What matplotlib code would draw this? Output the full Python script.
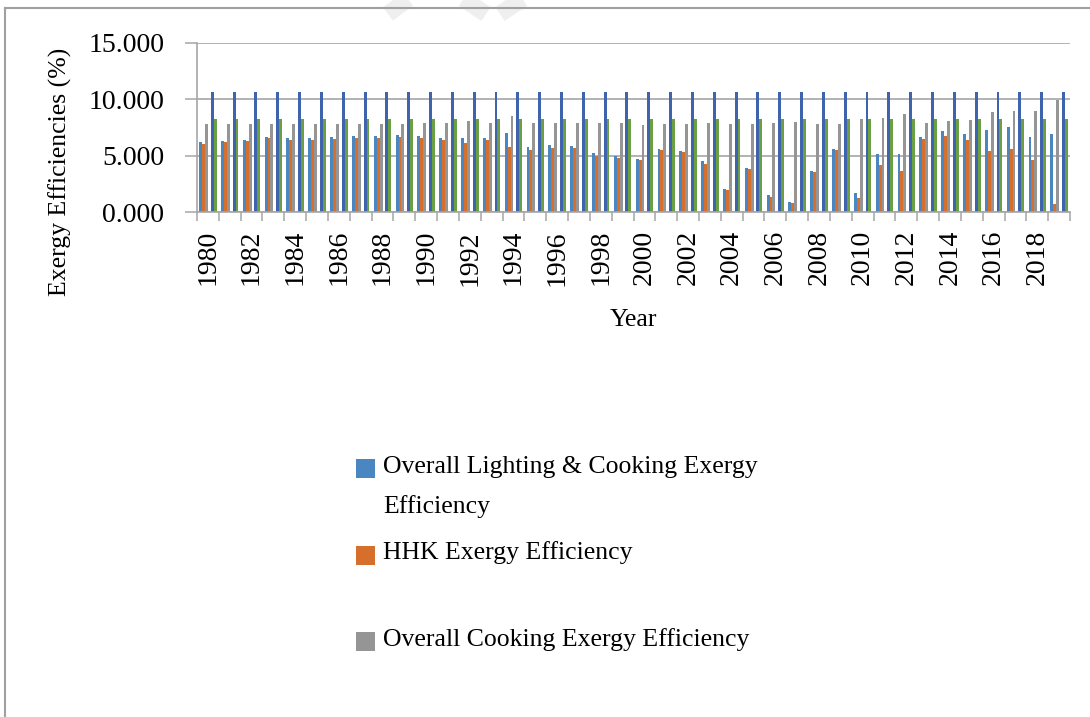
import matplotlib.pyplot as plt
import numpy as np
from matplotlib.patches import Rectangle
from matplotlib.lines import Line2D

plt.rcParams['font.family'] = ['Liberation Serif', 'DejaVu Serif']

years = list(range(1980, 2020))

lighting_cooking = [6.19, 6.34, 6.40, 6.63, 6.57, 6.55, 6.63, 6.72, 6.72, 6.81,
                    6.72, 6.60, 6.55, 6.60, 6.99, 5.75, 5.92, 5.89, 5.21, 4.98,
                    4.68, 5.57, 5.39, 4.56, 2.02, 3.94, 1.51, 0.86, 3.61, 5.57,
                    1.72, 5.12, 5.12, 6.63, 7.23, 6.96, 7.32, 7.58, 6.66, 6.90]

hhk = [6.01, 6.22, 6.28, 6.55, 6.43, 6.40, 6.46, 6.55, 6.57, 6.63,
       6.57, 6.43, 6.13, 6.37, 5.78, 5.48, 5.69, 5.66, 5.01, 4.80,
       4.65, 5.51, 5.33, 4.30, 1.93, 3.85, 1.36, 0.77, 3.56, 5.51,
       1.28, 4.21, 3.61, 6.46, 6.78, 6.37, 5.45, 5.57, 4.59, 0.71]

cooking = [7.85, 7.85, 7.85, 7.85, 7.85, 7.85, 7.85, 7.85, 7.85, 7.85,
           7.88, 7.88, 8.05, 7.91, 8.53, 7.91, 7.91, 7.91, 7.91, 7.88,
           7.76, 7.79, 7.79, 7.91, 7.79, 7.79, 7.94, 7.97, 7.79, 7.79,
           8.26, 8.32, 8.68, 7.88, 8.08, 8.17, 8.85, 9.00, 8.94, 9.98]

lighting = [10.66, 10.66, 10.66, 10.66, 10.66, 10.66, 10.66, 10.66, 10.66, 10.66,
            10.66, 10.66, 10.66, 10.66, 10.66, 10.66, 10.66, 10.66, 10.66, 10.66,
            10.66, 10.66, 10.66, 10.66, 10.66, 10.66, 10.66, 10.66, 10.66, 10.66,
            10.66, 10.66, 10.66, 10.66, 10.66, 10.66, 10.66, 10.66, 10.66, 10.66]

other = [8.26, 8.26, 8.26, 8.26, 8.26, 8.26, 8.26, 8.26, 8.26, 8.26,
         8.26, 8.26, 8.26, 8.26, 8.26, 8.26, 8.26, 8.26, 8.26, 8.26,
         8.26, 8.26, 8.26, 8.26, 8.26, 8.26, 8.26, 8.26, 8.26, 8.26,
         8.26, 8.26, 8.26, 8.26, 8.26, 8.26, 8.26, 8.26, 8.26, 8.26]

series_names = ['Overall Lighting & Cooking Exergy\nEfficiency',
                'HHK Exergy Efficiency',
                'Overall Cooking Exergy Efficiency']

# slot 3 is an empty series in the original chart
series = [(lighting_cooking, 0, '#4A86C0'),
          (hhk, 1, '#D66F2C'),
          (cooking, 2, '#959595'),
          (lighting, 4, '#3F63AD'),
          (other, 5, '#6AA043')]

W, H = 1090, 717
fig = plt.figure(figsize=(W / 100, H / 100), dpi=100)
ax = fig.add_axes([197 / W, 1 - 212 / H, (1070 - 197) / W, (212 - 43) / H])

x = np.arange(len(years))
bw = 1 / 7.5
for vals, slot, col in series:
    ax.bar(x + (slot - 2.5) * bw, vals, width=bw, color=col, linewidth=0)

grid_c = '#A6A6A6'
ax.set_ylim(0, 15)
ax.set_yticks([0, 5, 10, 15])
ax.set_yticklabels(['%.3f' % v for v in [0, 5, 10, 15]], fontsize=20)
ax.yaxis.grid(True, color=grid_c, lw=1.2)
ax.set_axisbelow(True)

ax.set_xlim(-0.5, len(years) - 0.5)
ax.set_xticks(x[::2])
ax.set_xticklabels([str(y) for y in years[::2]], rotation=90, fontsize=20)
ax.set_xticks(np.arange(-0.5, len(years)), minor=True)
ax.tick_params(axis='x', which='major', length=0, pad=13)
ax.tick_params(axis='x', which='minor', length=6.5, color=grid_c, width=1.1)
ax.tick_params(axis='y', length=8.6, color=grid_c, width=1.1, pad=15)

for s in ['top', 'right']:
    ax.spines[s].set_visible(False)
for s in ['left', 'bottom']:
    ax.spines[s].set_color(grid_c)
    ax.spines[s].set_linewidth(1.2)

fig.text(633 / W, 1 - 320 / H, 'Year', ha='center', va='center', fontsize=18.5)
fig.text(60 / W, 1 - 172 / H, 'Exergy Efficiencies (%)', rotation=90,
         ha='center', va='center', fontsize=18.5)

# legend (cut off after three entries in the original)
leg_cols = ['#4A86C0', '#D66F2C', '#959595']
for i, (name, col) in enumerate(zip(series_names, leg_cols)):
    top = 459 + i * 86.5
    fig.add_artist(Rectangle((356 / W, 1 - (top + 19) / H), 19 / W, 19 / H,
                             transform=fig.transFigure, color=col, lw=0))
    for j, line in enumerate(name.split('\n')):
        fig.text(383 / W, 1 - (top + 14 + j * 40) / H, line, ha='left',
                 va='baseline', fontsize=18.5)

# outer chart frame
fig.add_artist(Line2D([5 / W, 5 / W], [0, 1 - 8 / H], color='#A0A0A0', lw=1.5))
fig.add_artist(Line2D([5 / W, 1], [1 - 8 / H, 1 - 8 / H], color='#A0A0A0', lw=1.5))

# faint watermark strokes at the top
wm = '#EFEFEF'
for (x0, y0), (x1, y1) in [((388, 14), (420, -10)), ((450, -10), (486, 14)),
                           ((500, 14), (536, -10))]:
    fig.add_artist(Line2D([x0 / W, x1 / W], [1 - y0 / H, 1 - y1 / H],
                          color=wm, lw=12, solid_capstyle='butt', zorder=-1))

fig.savefig('out.png', dpi=100)
